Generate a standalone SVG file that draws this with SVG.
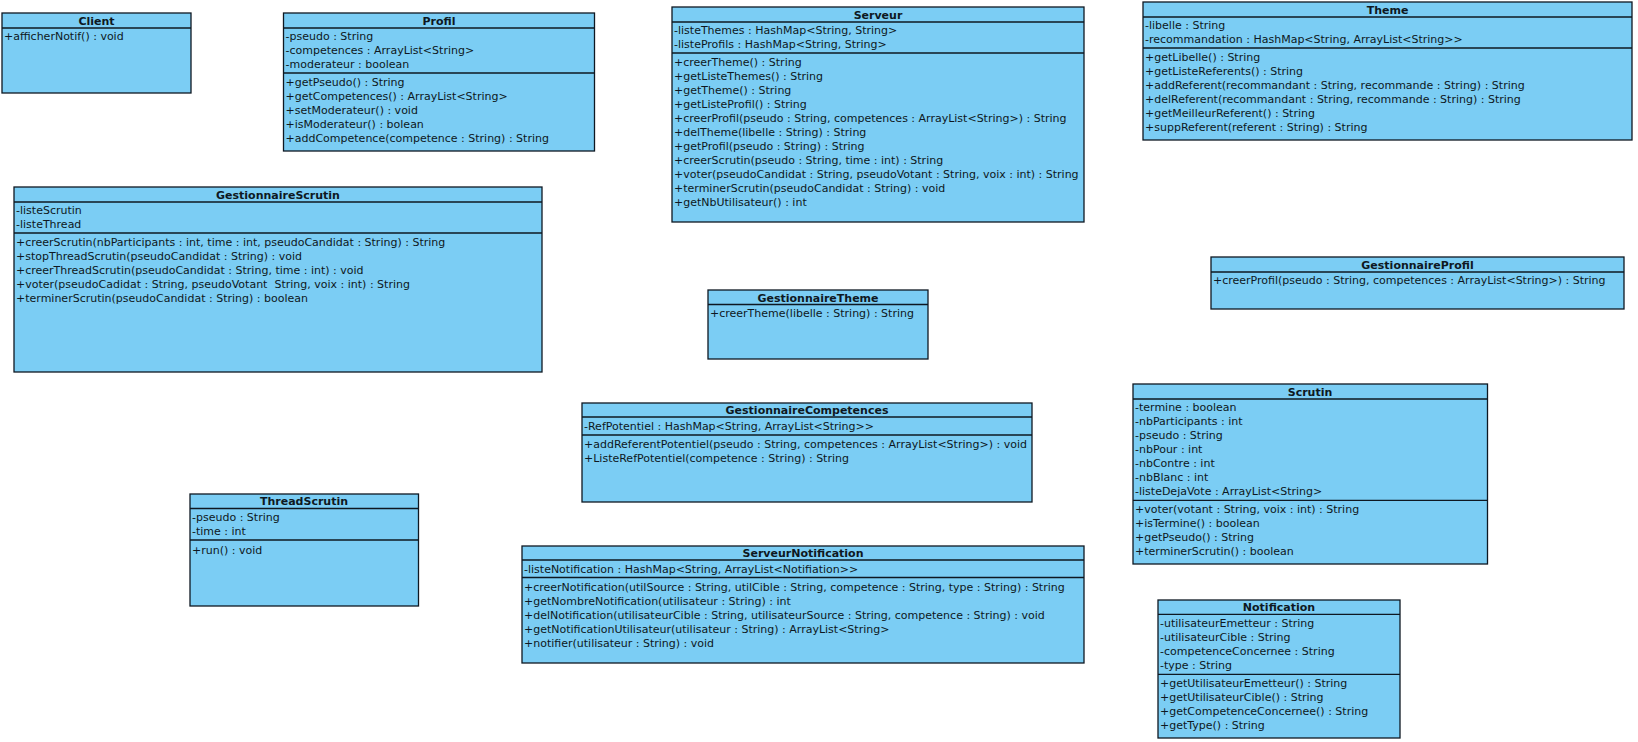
<svg xmlns="http://www.w3.org/2000/svg" width="1638" height="742" viewBox="0 0 1638 742">
<style>
.box{fill:#7bcdf4;stroke:#0e1822;stroke-width:1.3}
.ln{stroke:#0e1822;stroke-width:1.3}
.t{font-family:"DejaVu Sans","Liberation Sans",sans-serif;font-size:11px;fill:#0e1822}
.h{font-family:"DejaVu Sans","Liberation Sans",sans-serif;font-size:11px;font-weight:bold;fill:#0e1822;text-anchor:middle}
</style>
<rect width="1638" height="742" fill="#ffffff"/>
<g id="connectors"></g>

<g id="Client">
<rect class="box" x="2" y="13" width="189" height="80"/>
<line class="ln" x1="2" y1="28" x2="191" y2="28"/>
<text class="h" x="96.5" y="24.5">Client</text>
<text class="t" x="4" y="40">+afficherNotif() : void</text>
</g>

<g id="Profil">
<rect class="box" x="283.5" y="13" width="311" height="138"/>
<line class="ln" x1="283.5" y1="28" x2="594.5" y2="28"/>
<line class="ln" x1="283.5" y1="73" x2="594.5" y2="73"/>
<text class="h" x="439" y="24.5">Profil</text>
<text class="t" x="285.5" y="40">-pseudo : String</text>
<text class="t" x="285.5" y="54">-competences : ArrayList&lt;String&gt;</text>
<text class="t" x="285.5" y="68">-moderateur : boolean</text>
<text class="t" x="285.5" y="86">+getPseudo() : String</text>
<text class="t" x="285.5" y="100">+getCompetences() : ArrayList&lt;String&gt;</text>
<text class="t" x="285.5" y="114">+setModerateur() : void</text>
<text class="t" x="285.5" y="128">+isModerateur() : bolean</text>
<text class="t" x="285.5" y="142">+addCompetence(competence : String) : String</text>
</g>

<g id="Serveur">
<rect class="box" x="672" y="7" width="412" height="215"/>
<line class="ln" x1="672" y1="22" x2="1084" y2="22"/>
<line class="ln" x1="672" y1="53" x2="1084" y2="53"/>
<text class="h" x="878" y="18.5">Serveur</text>
<text class="t" x="674" y="34.3">-listeThemes : HashMap&lt;String, String&gt;</text>
<text class="t" x="674" y="48.3">-listeProfils : HashMap&lt;String, String&gt;</text>
<text class="t" x="674" y="66.3">+creerTheme() : String</text>
<text class="t" x="674" y="80.3">+getListeThemes() : String</text>
<text class="t" x="674" y="94.3">+getTheme() : String</text>
<text class="t" x="674" y="108.3">+getListeProfil() : String</text>
<text class="t" x="674" y="122.3">+creerProfil(pseudo : String, competences : ArrayList&lt;String&gt;) : String</text>
<text class="t" x="674" y="136.3">+delTheme(libelle : String) : String</text>
<text class="t" x="674" y="150.3">+getProfil(pseudo : String) : String</text>
<text class="t" x="674" y="164.3">+creerScrutin(pseudo : String, time : int) : String</text>
<text class="t" x="674" y="178.3">+voter(pseudoCandidat : String, pseudoVotant : String, voix : int) : String</text>
<text class="t" x="674" y="192.3">+terminerScrutin(pseudoCandidat : String) : void</text>
<text class="t" x="674" y="206.3">+getNbUtilisateur() : int</text>
</g>

<g id="Theme">
<rect class="box" x="1143" y="2" width="489" height="138"/>
<line class="ln" x1="1143" y1="17" x2="1632" y2="17"/>
<line class="ln" x1="1143" y1="48" x2="1632" y2="48"/>
<text class="h" x="1387.5" y="13.5">Theme</text>
<text class="t" x="1145" y="29.3">-libelle : String</text>
<text class="t" x="1145" y="43.3">-recommandation : HashMap&lt;String, ArrayList&lt;String&gt;&gt;</text>
<text class="t" x="1145" y="61.3">+getLibelle() : String</text>
<text class="t" x="1145" y="75.3">+getListeReferents() : String</text>
<text class="t" x="1145" y="89.3">+addReferent(recommandant : String, recommande : String) : String</text>
<text class="t" x="1145" y="103.3">+delReferent(recommandant : String, recommande : String) : String</text>
<text class="t" x="1145" y="117.3">+getMeilleurReferent() : String</text>
<text class="t" x="1145" y="131.3">+suppReferent(referent : String) : String</text>
</g>

<g id="GestionnaireScrutin">
<rect class="box" x="14" y="187" width="528" height="185"/>
<line class="ln" x1="14" y1="202" x2="542" y2="202"/>
<line class="ln" x1="14" y1="233" x2="542" y2="233"/>
<text class="h" x="278" y="198.5">GestionnaireScrutin</text>
<text class="t" x="16" y="214.3">-listeScrutin</text>
<text class="t" x="16" y="228.3">-listeThread</text>
<text class="t" x="16" y="246.3">+creerScrutin(nbParticipants : int, time : int, pseudoCandidat : String) : String</text>
<text class="t" x="16" y="260.3">+stopThreadScrutin(pseudoCandidat : String) : void</text>
<text class="t" x="16" y="274.3">+creerThreadScrutin(pseudoCandidat : String, time : int) : void</text>
<text class="t" x="16" y="288.3" xml:space="preserve">+voter(pseudoCadidat : String, pseudoVotant  String, voix : int) : String</text>
<text class="t" x="16" y="302.3">+terminerScrutin(pseudoCandidat : String) : boolean</text>
</g>

<g id="GestionnaireProfil">
<rect class="box" x="1211" y="257" width="413" height="52"/>
<line class="ln" x1="1211" y1="272" x2="1624" y2="272"/>
<text class="h" x="1417.5" y="268.5">GestionnaireProfil</text>
<text class="t" x="1213" y="284">+creerProfil(pseudo : String, competences : ArrayList&lt;String&gt;) : String</text>
</g>

<g id="GestionnaireTheme">
<rect class="box" x="708" y="290" width="220" height="69"/>
<line class="ln" x1="708" y1="304.5" x2="928" y2="304.5"/>
<text class="h" x="818" y="301.5">GestionnaireTheme</text>
<text class="t" x="710" y="317.3">+creerTheme(libelle : String) : String</text>
</g>

<g id="GestionnaireCompetences">
<rect class="box" x="582" y="403" width="450" height="99"/>
<line class="ln" x1="582" y1="417" x2="1032" y2="417"/>
<line class="ln" x1="582" y1="435" x2="1032" y2="435"/>
<text class="h" x="807" y="414">GestionnaireCompetences</text>
<text class="t" x="584" y="429.7">-RefPotentiel : HashMap&lt;String, ArrayList&lt;String&gt;&gt;</text>
<text class="t" x="584" y="447.7">+addReferentPotentiel(pseudo : String, competences : ArrayList&lt;String&gt;) : void</text>
<text class="t" x="584" y="461.7">+ListeRefPotentiel(competence : String) : String</text>
</g>

<g id="Scrutin">
<rect class="box" x="1133" y="384" width="354.5" height="180"/>
<line class="ln" x1="1133" y1="399" x2="1487.5" y2="399"/>
<line class="ln" x1="1133" y1="500.3" x2="1487.5" y2="500.3"/>
<text class="h" x="1310" y="395.5">Scrutin</text>
<text class="t" x="1135" y="411">-termine : boolean</text>
<text class="t" x="1135" y="425">-nbParticipants : int</text>
<text class="t" x="1135" y="439">-pseudo : String</text>
<text class="t" x="1135" y="453">-nbPour : int</text>
<text class="t" x="1135" y="467">-nbContre : int</text>
<text class="t" x="1135" y="481">-nbBlanc : int</text>
<text class="t" x="1135" y="495">-listeDejaVote : ArrayList&lt;String&gt;</text>
<text class="t" x="1135" y="513">+voter(votant : String, voix : int) : String</text>
<text class="t" x="1135" y="527">+isTermine() : boolean</text>
<text class="t" x="1135" y="541">+getPseudo() : String</text>
<text class="t" x="1135" y="555">+terminerScrutin() : boolean</text>
</g>

<g id="ThreadScrutin">
<rect class="box" x="190" y="494" width="228.5" height="112"/>
<line class="ln" x1="190" y1="508.5" x2="418.5" y2="508.5"/>
<line class="ln" x1="190" y1="540" x2="418.5" y2="540"/>
<text class="h" x="304" y="505">ThreadScrutin</text>
<text class="t" x="192" y="521.3">-pseudo : String</text>
<text class="t" x="192" y="535.3">-time : int</text>
<text class="t" x="192" y="553.7">+run() : void</text>
</g>

<g id="ServeurNotification">
<rect class="box" x="522" y="546" width="562" height="117"/>
<line class="ln" x1="522" y1="560" x2="1084" y2="560"/>
<line class="ln" x1="522" y1="577.5" x2="1084" y2="577.5"/>
<text class="h" x="803" y="557">ServeurNotification</text>
<text class="t" x="524" y="572.7">-listeNotification : HashMap&lt;String, ArrayList&lt;Notifiation&gt;&gt;</text>
<text class="t" x="524" y="590.7">+creerNotification(utilSource : String, utilCible : String, competence : String, type : String) : String</text>
<text class="t" x="524" y="604.7">+getNombreNotification(utilisateur : String) : int</text>
<text class="t" x="524" y="618.7">+delNotification(utilisateurCible : String, utilisateurSource : String, competence : String) : void</text>
<text class="t" x="524" y="632.7">+getNotificationUtilisateur(utilisateur : String) : ArrayList&lt;String&gt;</text>
<text class="t" x="524" y="646.7">+notifier(utilisateur : String) : void</text>
</g>

<g id="Notification">
<rect class="box" x="1158" y="600" width="242" height="138"/>
<line class="ln" x1="1158" y1="614.3" x2="1400" y2="614.3"/>
<line class="ln" x1="1158" y1="674.3" x2="1400" y2="674.3"/>
<text class="h" x="1279" y="611">Notification</text>
<text class="t" x="1160" y="627.3">-utilisateurEmetteur : String</text>
<text class="t" x="1160" y="641.3">-utilisateurCible : String</text>
<text class="t" x="1160" y="655.3">-competenceConcernee : String</text>
<text class="t" x="1160" y="669.3">-type : String</text>
<text class="t" x="1160" y="686.7">+getUtilisateurEmetteur() : String</text>
<text class="t" x="1160" y="700.7">+getUtilisateurCible() : String</text>
<text class="t" x="1160" y="714.7">+getCompetenceConcernee() : String</text>
<text class="t" x="1160" y="728.7">+getType() : String</text>
</g>
</svg>
